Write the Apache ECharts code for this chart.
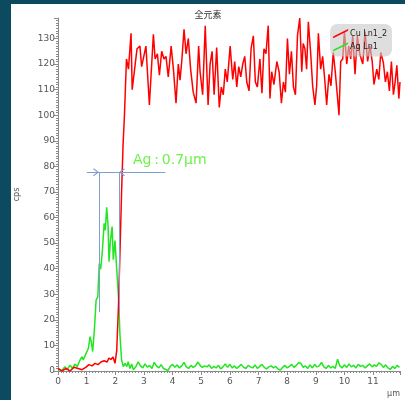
<!DOCTYPE html>
<html>
<head>
<meta charset="utf-8">
<script src="https://cdn.jsdelivr.net/npm/echarts@6/dist/echarts.min.js"></script>
<style>
html, body { margin: 0; padding: 0; width: 405px; height: 400px; background: #0c4a5f; overflow: hidden; }
#chart { position: absolute; left: 11px; top: 4px; width: 394px; height: 396px; background: #ffffff; }
</style>
</head>
<body>
<div id="chart"></div>
<script>
var titleText = '全元素';
var seriesNames = ['Cu Ln1_2', 'Ag Ln1'];
var noteText = 'Ag\u2009:\u20090.7µm';

// Cu Ln1_2 (µm, cps)
var cuX = [0.00, 0.14, 0.28, 0.42, 0.56, 0.70, 0.84, 0.98, 1.08, 1.19, 1.29, 1.40, 1.50, 1.61, 1.71, 1.78, 1.85, 1.92, 1.99, 2.05,
	2.11, 2.16, 2.22, 2.27, 2.32, 2.39, 2.46, 2.55, 2.59, 2.69, 2.76, 2.86, 2.92, 2.98, 3.07, 3.19, 3.33, 3.39, 3.47, 3.54,
	3.62, 3.70, 3.77, 3.85, 3.95, 4.03, 4.12, 4.20, 4.26, 4.32, 4.40, 4.47, 4.55, 4.63, 4.72, 4.82, 4.91, 4.96, 5.05, 5.14,
	5.24, 5.31, 5.38, 5.45, 5.54, 5.63, 5.70, 5.77, 5.84, 5.91, 6.01, 6.10, 6.17, 6.24, 6.31, 6.38, 6.45, 6.52, 6.59, 6.67,
	6.74, 6.82, 6.89, 6.96, 7.05, 7.12, 7.19, 7.26, 7.34, 7.40, 7.46, 7.54, 7.64, 7.72, 7.80, 7.87, 7.94, 8.01, 8.08, 8.15,
	8.22, 8.29, 8.36, 8.44, 8.51, 8.56, 8.62, 8.68, 8.74, 8.82, 8.89, 8.97, 9.03, 9.09, 9.17, 9.24, 9.32, 9.38, 9.46, 9.53,
	9.61, 9.68, 9.75, 9.81, 9.87, 9.94, 10.00, 10.08, 10.15, 10.22, 10.29, 10.37, 10.45, 10.54, 10.64, 10.72, 10.81, 10.89, 10.97, 11.03,
	11.13, 11.20, 11.27, 11.36, 11.43, 11.50, 11.57, 11.64, 11.71, 11.77, 11.83, 11.90, 11.94];
var cuY = [1, 0, 1, 0, 1.5, 1, 0.5, 1.5, 2.5, 2, 3, 2.5, 3.5, 4, 3.5, 5, 4.5, 5.5, 3, 8,
	25, 45, 70, 88, 100, 122, 118, 132, 110, 119.5, 126, 127, 119, 119, 127, 104, 131.6, 122, 124, 115.6,
	125, 122, 123, 115, 127, 118, 104.7, 120, 113.7, 121, 133.6, 124, 130, 118, 109, 104.7, 127, 117, 108, 135,
	104, 120, 125, 108, 126.5, 103, 111, 108, 118, 113, 127, 114, 121, 111, 119, 115, 120, 123, 113, 109.5,
	126, 131, 113, 111, 122, 108.6, 126, 124, 135, 106.5, 117, 112, 121, 117, 104.7, 113, 109, 130, 116, 125,
	111, 108, 131, 138, 117, 128, 126, 118, 136.5, 124.5, 111.5, 104, 111.5, 132, 118, 123, 113, 104, 116, 111.5,
	124.5, 117, 108, 100, 121, 122, 132.7, 120, 127, 122, 131, 116, 131, 123.7, 120, 132.7, 121, 127, 121, 112,
	118, 114, 124.5, 120.5, 113, 117, 109.5, 121, 108, 113, 119.5, 106.5, 113];

// Ag Ln1 peak region (µm, cps)
var agX = [0.01, 0.13, 0.24, 0.32, 0.42, 0.51, 0.59, 0.67, 0.77, 0.84, 0.88, 0.98, 1.06, 1.12, 1.16, 1.21, 1.27, 1.33, 1.39, 1.44,
	1.49, 1.55, 1.61, 1.65, 1.70, 1.75, 1.78, 1.83, 1.89, 1.93, 1.99, 2.05, 2.12, 2.16, 2.22, 2.28, 2.34, 2.40, 2.45, 2.51,
	2.57, 2.63, 2.72, 2.80];
var agY = [0.8, 0, 1.7, 0.5, 2.3, 1, 2.7, 1.7, 4.3, 5.6, 4.3, 6.9, 8.8, 13.4, 11.5, 7.6, 16, 27.7, 29, 42,
	39.8, 47, 57.7, 55, 64, 56.5, 42.7, 51, 56.5, 43.5, 51, 39.8, 27.7, 14.7, 4.3, 1.7, 3, 1.7, 3.6, 1,
	2.7, 0.5, 1.7, 3.6];
// Ag Ln1 tail, sampled every 0.08 µm from 2.88 µm
var agTailStart = 2.88;
var agTailStep = 0.08;
var agTailY = [2.0, 1.2, 2.8, 1.5, 2.2, 1.0, 3.4, 2.0, 1.2, 2.5, 1.0, 0.6, 0.2, 1.8, 2.6, 1.5, 2.4, 1.2, 2.0, 3.4,
	1.6, 1.0, 2.2, 1.4, 2.0, 3.5, 2.2, 1.4, 2.0, 1.6, 2.4, 1.0, 1.8, 1.2, 2.2, 0.8, 1.6, 2.8, 1.4, 2.6,
	1.2, 2.0, 1.0, 1.8, 2.6, 1.4, 1.0, 2.2, 1.6, 1.2, 2.4, 1.0, 1.8, 2.6, 1.4, 0.8, 1.6, 2.0, 1.2, 1.8,
	0.8, 0.4, 1.4, 2.2, 1.2, 1.8, 2.6, 1.4, 2.2, 3.2, 3.0, 1.4, 2.0, 1.0, 2.4, 1.2, 2.6, 1.6, 2.0, 3.4,
	1.6, 1.0, 2.2, 1.2, 1.8, 1.0, 4.6, 2.0, 1.2, 2.4, 1.4, 2.8, 1.6, 2.2, 1.2, 2.6, 1.8, 2.2, 1.2, 2.0,
	2.8, 1.6, 2.4, 1.8, 3.2, 2.6, 1.4, 2.4, 1.2, 0.6, 1.8, 1.0, 2.2, 1.4];

// annotation (µm, cps)
var noteY = 77.7;
var noteLeft = 1.01, noteRight = 3.74;
var edgeA = 1.43, edgeB = 2.13, edgeBottom = 23;
var notePos = [2.62, 82.4];

var cuData = [];
for (var i = 0; i < cuX.length; i++) cuData.push([cuX[i], cuY[i]]);
var agData = [];
for (var j = 0; j < agX.length; j++) agData.push([agX[j], agY[j]]);
for (var k = 0; k < agTailY.length; k++) agData.push([+(agTailStart + k * agTailStep).toFixed(2), agTailY[k]]);

var chevron = 'path://M5,0 L10,8 L8.8,9 L5,2.6 L1.2,9 L0,8 Z';
var lineIcon = 'path://M0,9 L14,2 L14,3.6 L0,10.6 Z';
var axisGray = '#8a8a8a';
var labelGray = '#555';

var option = {
	animation: false,
	textStyle: { fontFamily: 'DejaVu Sans' },
	title: {
		text: titleText,
		left: 'center',
		top: 1,
		textStyle: { fontSize: 9, fontWeight: 'normal', color: '#333', fontFamily: 'Noto Sans CJK SC' }
	},
	legend: {
		orient: 'vertical',
		right: 13,
		top: 20,
		padding: [5, 5, 5, 3],
		itemGap: 4,
		itemWidth: 15,
		itemHeight: 10,
		backgroundColor: 'rgba(200,200,200,0.6)',
		borderRadius: 7,
		textStyle: { fontSize: 8, color: '#222', padding: [0, 0, 0, -3] },
		data: [{ name: seriesNames[0], icon: lineIcon }, { name: seriesNames[1], icon: lineIcon }]
	},
	grid: { left: 47, right: 5, top: 14, bottom: 29, outerBoundsMode: 'none', containLabel: false },
	xAxis: {
		type: 'value',
		min: 0,
		max: 11.94,
		interval: 1,
		name: 'µm',
		nameLocation: 'end',
		nameGap: 0,
		nameTextStyle: { fontSize: 8, color: labelGray, align: 'right', verticalAlign: 'top', padding: [19, 0, 0, 0] },
		axisLine: { lineStyle: { color: axisGray } },
		axisTick: { length: 4, lineStyle: { color: axisGray } },
		minorTick: { show: true, splitNumber: 10, length: 2, lineStyle: { color: axisGray } },
		axisLabel: { fontSize: 9, color: labelGray, margin: 6, showMaxLabel: false },
		splitLine: { show: false }
	},
	yAxis: {
		type: 'value',
		min: 0,
		max: 138,
		interval: 10,
		name: 'cps',
		nameLocation: 'middle',
		nameRotate: 90,
		nameGap: 37,
		nameTextStyle: { fontSize: 8, color: labelGray },
		axisLine: { show: true, lineStyle: { color: axisGray } },
		axisTick: { show: true, length: 4, lineStyle: { color: axisGray } },
		minorTick: { show: true, splitNumber: 10, length: 2, lineStyle: { color: axisGray } },
		axisLabel: { fontSize: 9, color: labelGray, margin: 3, showMaxLabel: false },
		splitLine: { show: false }
	},
	series: [{
		name: seriesNames[1],
		type: 'line',
		data: agData,
		showSymbol: false,
		color: '#22e622',
		lineStyle: { width: 1.5, color: '#22e622' },
		markLine: {
			silent: true,
			symbol: 'none',
			label: { show: false },
			lineStyle: { color: '#7f9fd0', width: 1, type: 'solid' },
			emphasis: { disabled: true },
			data: [
				[{ coord: [noteLeft, noteY] }, { coord: [noteRight, noteY] }],
				[{ coord: [edgeA, noteY] }, { coord: [edgeA, edgeBottom] }],
				[{ coord: [edgeB, noteY] }, { coord: [edgeB, edgeBottom] }],
				[{ coord: [noteLeft, noteY] }, { coord: [edgeA - 0.1, noteY], symbol: chevron, symbolSize: [8, 6] }],
				[{ coord: [noteRight, noteY] }, { coord: [edgeB + 0.1, noteY], symbol: chevron, symbolSize: [8, 6] }]
			]
		},
		markPoint: {
			silent: true,
			symbol: 'circle',
			symbolSize: 0,
			data: [{ coord: notePos }],
			label: {
				show: true,
				position: 'right',
				distance: 0,
				formatter: noteText,
				fontSize: 14,
				color: '#6cf24a',
				fontFamily: 'DejaVu Sans'
			}
		}
	}, {
		name: seriesNames[0],
		type: 'line',
		data: cuData,
		showSymbol: false,
		color: '#ff0000',
		lineStyle: { width: 1.5, color: '#ff0000' }
	}]
};

var chart = echarts.init(document.getElementById('chart'));
chart.setOption(option);
</script>
</body>
</html>
